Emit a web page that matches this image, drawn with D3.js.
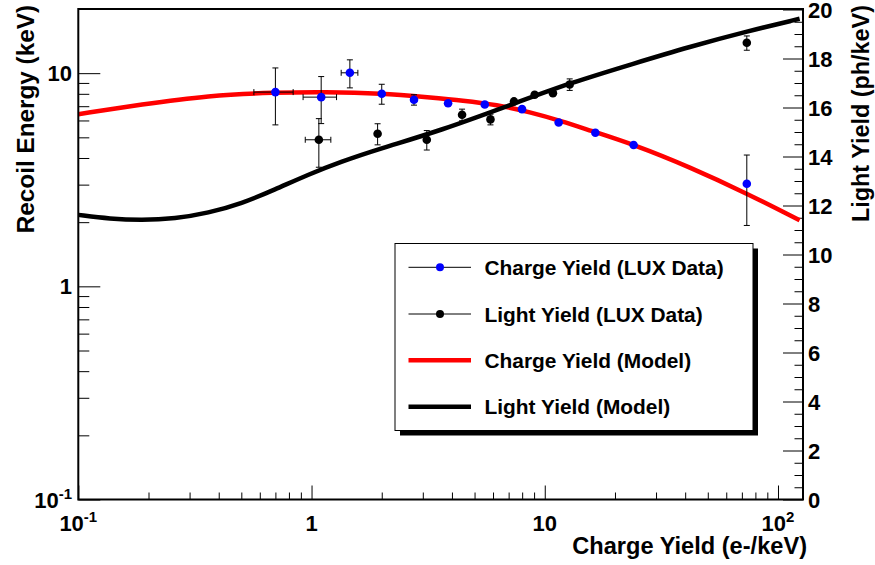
<!DOCTYPE html>
<html>
<head>
<meta charset="utf-8">
<script src="https://cdn.jsdelivr.net/npm/d3@7"></script>
<style>
  body { margin: 0; background: #fff; }
  svg { display: block; }
  text { font-family: "Liberation Sans", Arial, Helvetica, sans-serif; font-weight: bold; fill: #000; }
</style>
</head>
<body>
<svg id="chart" width="875" height="565"></svg>
<script>
// ---- LUX measurements ----
const chargeX    = [0.70, 1.10, 1.46, 2.00, 2.75, 3.85, 5.53, 7.99, 11.47, 16.48, 24.04, 73.5];
const chargeXErr = [0.134, 0.18, 0.12, 0, 0, 0, 0, 0, 0, 0, 0, 0];
const chargeY    = [8.15, 7.72, 10.04, 8.01, 7.50, 7.23, 7.13, 6.78, 5.87, 5.25, 4.60, 3.03];
const chargeYErr = [2.43, 1.92, 1.51, 0.86, 0.42, 0, 0, 0, 0, 0, 0, 1.10];

const lightX    = [1.075, 1.92, 3.12, 4.42, 5.85, 7.38, 9.05, 10.84, 12.79, 73.5];
const lightXErr = [0.135, 0, 0, 0, 0, 0, 0, 0, 0, 0];
const lightY    = [4.87, 5.20, 4.87, 6.38, 6.07, 7.37, 7.92, 8.06, 8.85, 13.88];
const lightYErr = [1.25, 0.59, 0.51, 0.40, 0.35, 0.15, 0.12, 0.15, 0.55, 1.07];

// ---- model curves ----
const chargeModelX = [0.1, 0.187, 0.361, 0.697, 1.141, 1.995, 3.216, 4.453, 6.229, 8.624, 11.94, 15.59, 24.06, 41.8, 73.4, 123.8];
const chargeModelY = [6.42, 7.13, 7.86, 8.12, 8.17, 8.05, 7.69, 7.45, 7.11, 6.57, 5.94, 5.39, 4.63, 3.63, 2.73, 2.04];
const lightModelX  = [0.1, 0.1368, 0.187, 0.2597, 0.361, 0.5015, 0.697, 0.9674, 1.323, 1.968, 3.548, 7.437, 12.79, 24.06, 41.8, 73.4, 123.8];
const lightModelY  = [2.164, 2.073, 2.039, 2.077, 2.207, 2.443, 2.845, 3.346, 3.828, 4.43, 5.36, 7.22, 8.98, 11.09, 13.30, 15.69, 17.99];

// ---- axes ----
const xDomain = [0.1, 128];
const yDomain = [0.1, 20];
const yRightDomain = [0, 20];
const xMajorTicks = [0.1, 1, 10, 100];
const xMajorLabels = [["10", "-1"], ["1", ""], ["10", ""], ["10", "2"]];
const yMajorTicks = [0.1, 1, 10];
const yMajorLabels = [["10", "-1"], ["1", ""], ["10", ""]];
const yRightMajorTicks = [0, 2, 4, 6, 8, 10, 12, 14, 16, 18, 20];

const xTitle = "Charge Yield (e-/keV)";
const yTitle = "Recoil Energy (keV)";
const yRightTitle = "Light Yield (ph/keV)";

const legendLabels = ["Charge Yield (LUX Data)", "Light Yield (LUX Data)", "Charge Yield (Model)", "Light Yield (Model)"];

// ---- layout ----
const frame = { left: 78.3, right: 803, top: 9, bottom: 499.5 };
const svg = d3.select("#chart");

const x = d3.scaleLog().domain(xDomain).range([frame.left, frame.right]);
const y = d3.scaleLog().domain(yDomain).range([frame.bottom, frame.top]);
const yR = d3.scaleLinear().domain(yRightDomain).range([frame.bottom, frame.top + 0.5]);

// minor ticks for log axes: 2..9 in each decade
function logMinors(dom) {
  const out = [];
  for (let e = Math.floor(Math.log10(dom[0])); e <= Math.ceil(Math.log10(dom[1])); e++) {
    for (let m = 2; m <= 9; m++) {
      const v = m * Math.pow(10, e);
      if (v > dom[0] && v < dom[1]) out.push(v);
    }
  }
  return out;
}

const axes = svg.append("g");

// bottom axis
axes.append("g").attr("transform", `translate(0,${frame.bottom})`)
  .call(d3.axisBottom(x).tickValues(logMinors(xDomain)).tickSize(-7).tickFormat(""))
  .call(g => g.select(".domain").remove());
axes.append("g").attr("transform", `translate(0,${frame.bottom})`)
  .call(d3.axisBottom(x).tickValues(xMajorTicks).tickSize(-14).tickFormat(""))
  .call(g => g.select(".domain").remove());

// left axis
axes.append("g").attr("transform", `translate(${frame.left},0)`)
  .call(d3.axisLeft(y).tickValues(logMinors(yDomain)).tickSize(-11).tickFormat(""))
  .call(g => g.select(".domain").remove());
axes.append("g").attr("transform", `translate(${frame.left},0)`)
  .call(d3.axisLeft(y).tickValues(yMajorTicks).tickSize(-22).tickFormat(""))
  .call(g => g.select(".domain").remove());

// right axis (ticks pointing into the frame)
const rightMinor = d3.range(yRightDomain[0], yRightDomain[1] + 0.001, 0.5).filter(v => v % 2 !== 0);
axes.append("g").attr("transform", `translate(${frame.right},0)`)
  .call(d3.axisRight(yR).tickValues(rightMinor).tickSize(-8.5).tickFormat(""))
  .call(g => g.select(".domain").remove());
axes.append("g").attr("transform", `translate(${frame.right},0)`)
  .call(d3.axisRight(yR).tickValues(yRightMajorTicks).tickSize(-20).tickFormat(""))
  .call(g => g.select(".domain").remove());

axes.selectAll(".tick line").attr("stroke", "#000").attr("stroke-width", 1);

// tick labels with superscripts
function supLabel(g, parts, px, py, anchor) {
  const t = g.append("text").attr("x", px).attr("y", py).attr("text-anchor", anchor).attr("font-size", 22);
  t.append("tspan").text(parts[0]);
  if (parts[1]) t.append("tspan").attr("dy", -9).attr("font-size", 15).text(parts[1]);
  return t;
}
const labels = svg.append("g");
xMajorTicks.forEach((v, i) => supLabel(labels, xMajorLabels[i], x(v), 531, "middle"));
yMajorTicks.forEach((v, i) => supLabel(labels, yMajorLabels[i], 72, y(v) + 8, "end"));
yRightMajorTicks.forEach(v => {
  labels.append("text").attr("x", 808).attr("y", yR(v) + 8).attr("font-size", 22).text(v);
});

// axis titles
labels.append("text").attr("x", 807).attr("y", 554).attr("text-anchor", "end")
  .attr("font-size", 23.6).text(xTitle);
labels.append("text").attr("transform", "translate(33.5,5) rotate(-90)").attr("text-anchor", "end")
  .attr("font-size", 24.3).text(yTitle);
labels.append("text").attr("transform", "translate(869,5) rotate(-90)").attr("text-anchor", "end")
  .attr("font-size", 23.4).text(yRightTitle);

// ---- plot contents ----
svg.append("clipPath").attr("id", "frameClip").append("rect")
  .attr("x", frame.left).attr("y", frame.top)
  .attr("width", frame.right - frame.left).attr("height", frame.bottom - frame.top);
const plot = svg.append("g").attr("clip-path", "url(#frameClip)");

const line = d3.line().x(d => x(d[0])).y(d => y(d[1])).curve(d3.curveBasis);

plot.append("path").datum(d3.zip(chargeModelX, chargeModelY))
  .attr("d", line).attr("fill", "none").attr("stroke", "#ff0000").attr("stroke-width", 4.5);
plot.append("path").datum(d3.zip(lightModelX, lightModelY))
  .attr("d", line).attr("fill", "none").attr("stroke", "#000").attr("stroke-width", 4.5);

function drawPoints(xs, xe, ys, ye, color) {
  const pts = xs.map((v, i) => ({ x: v, xe: xe[i], y: ys[i], ye: ye[i] }));
  const g = plot.append("g");
  const cap = 3;
  pts.forEach(p => {
    const cx = x(p.x), cy = y(p.y);
    if (p.ye > 0) {
      const y1 = y(p.y + p.ye), y0 = y(p.y - p.ye);
      g.append("line").attr("x1", cx).attr("x2", cx).attr("y1", y1).attr("y2", y0).attr("stroke", "#000");
      g.append("line").attr("x1", cx - cap).attr("x2", cx + cap).attr("y1", y1).attr("y2", y1).attr("stroke", "#000");
      g.append("line").attr("x1", cx - cap).attr("x2", cx + cap).attr("y1", y0).attr("y2", y0).attr("stroke", "#000");
    }
    if (p.xe > 0) {
      const x0 = x(p.x - p.xe), x1 = x(p.x + p.xe);
      g.append("line").attr("x1", x0).attr("x2", x1).attr("y1", cy).attr("y2", cy).attr("stroke", "#000");
      g.append("line").attr("x1", x0).attr("x2", x0).attr("y1", cy - cap).attr("y2", cy + cap).attr("stroke", "#000");
      g.append("line").attr("x1", x1).attr("x2", x1).attr("y1", cy - cap).attr("y2", cy + cap).attr("stroke", "#000");
    }
  });
  g.selectAll("circle").data(pts).join("circle")
    .attr("cx", d => x(d.x)).attr("cy", d => y(d.y)).attr("r", 4.3).attr("fill", color);
}
drawPoints(chargeX, chargeXErr, chargeY, chargeYErr, "#0000ff");
drawPoints(lightX, lightXErr, lightY, lightYErr, "#000");

// frame
svg.append("rect").attr("x", frame.left).attr("y", frame.top)
  .attr("width", frame.right - frame.left).attr("height", frame.bottom - frame.top)
  .attr("fill", "none").attr("stroke", "#000").attr("stroke-width", 2);

// ---- legend ----
const leg = { x: 395, y: 243.5, w: 358, h: 187, shadow: 5 };
const lg = svg.append("g");
lg.append("rect").attr("x", leg.x + leg.shadow).attr("y", leg.y + leg.shadow)
  .attr("width", leg.w).attr("height", leg.h).attr("fill", "#000");
lg.append("rect").attr("x", leg.x).attr("y", leg.y).attr("width", leg.w).attr("height", leg.h)
  .attr("fill", "#fff").attr("stroke", "#000").attr("stroke-width", 1);

const legendStyles = [
  { stroke: "#000", width: 1, marker: "#0000ff" },
  { stroke: "#000", width: 1, marker: "#000" },
  { stroke: "#ff0000", width: 4.5, marker: null },
  { stroke: "#000", width: 4.5, marker: null }
];
const rowY = [267.3, 314, 360.3, 406.7];
legendLabels.forEach((lab, i) => {
  const s = legendStyles[i];
  lg.append("line").attr("x1", 408.5).attr("x2", 471).attr("y1", rowY[i]).attr("y2", rowY[i])
    .attr("stroke", s.stroke).attr("stroke-width", s.width);
  if (s.marker) lg.append("circle").attr("cx", 440).attr("cy", rowY[i]).attr("r", 4).attr("fill", s.marker);
  lg.append("text").attr("x", 484.5).attr("y", rowY[i] + 7.5).attr("font-size", 20.9).text(lab);
});
</script>
</body>
</html>
